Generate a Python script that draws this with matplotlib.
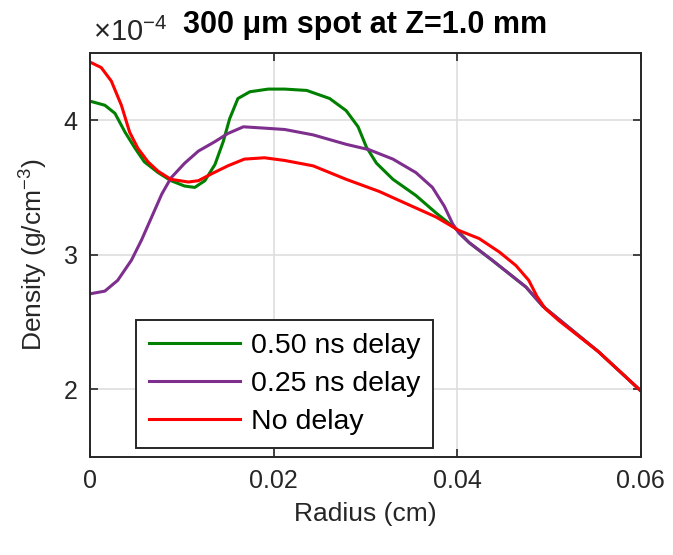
import numpy as np
import matplotlib.pyplot as plt

plt.rcParams['font.family'] = ['Liberation Sans', 'DejaVu Sans']
plt.rcParams['mathtext.fontset'] = 'custom'
plt.rcParams['mathtext.rm'] = 'Liberation Sans'
plt.rcParams['mathtext.it'] = 'Liberation Sans'

# radius (cm) and density (x1e-4 g/cm^3)
r_050 = [0.0, 0.0016, 0.0027, 0.0038, 0.0049, 0.0059, 0.0074, 0.0088, 0.0103, 0.0114,
         0.0125, 0.0136, 0.0145, 0.0152, 0.0161, 0.0174, 0.0194, 0.0212, 0.0236, 0.0261,
         0.0279, 0.0292, 0.0301, 0.0312, 0.0330, 0.0355, 0.0377, 0.0399, 0.0413, 0.0438,
         0.0475, 0.0493, 0.0511, 0.0554, 0.06]
d_050 = [4.14, 4.11, 4.05, 3.91, 3.79, 3.69, 3.61, 3.55, 3.51, 3.50,
         3.55, 3.67, 3.84, 4.01, 4.16, 4.21, 4.23, 4.23, 4.22, 4.16,
         4.07, 3.95, 3.80, 3.68, 3.56, 3.44, 3.31, 3.19, 3.09, 2.96,
         2.76, 2.62, 2.52, 2.28, 1.99]

r_025 = [0.0, 0.0016, 0.0030, 0.0045, 0.0056, 0.0067, 0.0078, 0.0088, 0.0103, 0.0118,
         0.0136, 0.0150, 0.0167, 0.0190, 0.0212, 0.0243, 0.0279, 0.0304, 0.0330, 0.0355,
         0.0373, 0.0386, 0.0395, 0.0402, 0.0413, 0.0438, 0.0475, 0.0493, 0.0511, 0.0554,
         0.06]
d_025 = [2.71, 2.73, 2.81, 2.96, 3.11, 3.28, 3.45, 3.57, 3.68, 3.77,
         3.84, 3.90, 3.95, 3.94, 3.93, 3.89, 3.82, 3.78, 3.71, 3.61,
         3.50, 3.36, 3.23, 3.16, 3.09, 2.96, 2.76, 2.62, 2.52, 2.28,
         1.99]

r_0 = [0.0, 0.0012, 0.0023, 0.0034, 0.0043, 0.0052, 0.0063, 0.0074, 0.0088, 0.0107,
       0.0118, 0.0132, 0.0150, 0.0168, 0.0190, 0.0212, 0.0243, 0.0279, 0.0315, 0.0341,
       0.0377, 0.0402, 0.0424, 0.0446, 0.0464, 0.0478, 0.0487, 0.0496, 0.0511, 0.0554,
       0.06]
d_0 = [4.43, 4.39, 4.29, 4.11, 3.91, 3.79, 3.69, 3.62, 3.56, 3.54,
       3.55, 3.60, 3.66, 3.71, 3.72, 3.70, 3.66, 3.56, 3.47, 3.39,
       3.28, 3.18, 3.12, 3.02, 2.92, 2.81, 2.69, 2.60, 2.51, 2.28,
       1.99]

fig = plt.figure(figsize=(6.73, 5.55), dpi=100)
ax = fig.add_axes([0.134, 0.177, 0.818, 0.728])

ax.plot(r_050, d_050, color='#008000', lw=2.2, label='0.50 ns delay')
ax.plot(r_025, d_025, color='#7E2F8E', lw=2.2, label='0.25 ns delay')
ax.plot(r_0, d_0, color='#FF0000', lw=2.2, label='No delay')

ax.set_xlim(0, 0.06)
ax.set_ylim(1.5, 4.5)
ax.set_xticks([0, 0.02, 0.04, 0.06])
ax.set_xticklabels(['0', '0.02', '0.04', '0.06'])
ax.set_yticks([2, 3, 4])
ax.grid(True, color='#dedede', lw=1.2)
ax.set_axisbelow(True)
ax.tick_params(direction='in', length=6, width=1.2, labelsize=18, top=True, right=True,
               colors='#262626', labelcolor='#262626', pad=9)
for s in ax.spines.values():
    s.set_linewidth(1.4)
    s.set_color('#262626')

ax.set_xlabel('Radius (cm)', fontsize=19, color='#262626', labelpad=6)
ax.set_ylabel('Density (g/cm$^{-3}$)', fontsize=19, color='#262626', labelpad=10)
ax.set_title('300 μm spot at Z=1.0 mm', fontsize=22, fontweight='bold', pad=14)
ax.text(0.005, 1.015, '$\\times10^{-4}$', transform=ax.transAxes, fontsize=21,
        color='#262626', ha='left', va='bottom')

leg = ax.legend(loc='lower left', bbox_to_anchor=(0.083, 0.022), fontsize=20.5,
                fancybox=False, framealpha=1, edgecolor='#262626', handlelength=3.2,
                handletextpad=0.4, borderpad=0.45, borderaxespad=0, labelspacing=0.42)
leg.get_frame().set_linewidth(1.4)

fig.savefig('out.png', dpi=100)
